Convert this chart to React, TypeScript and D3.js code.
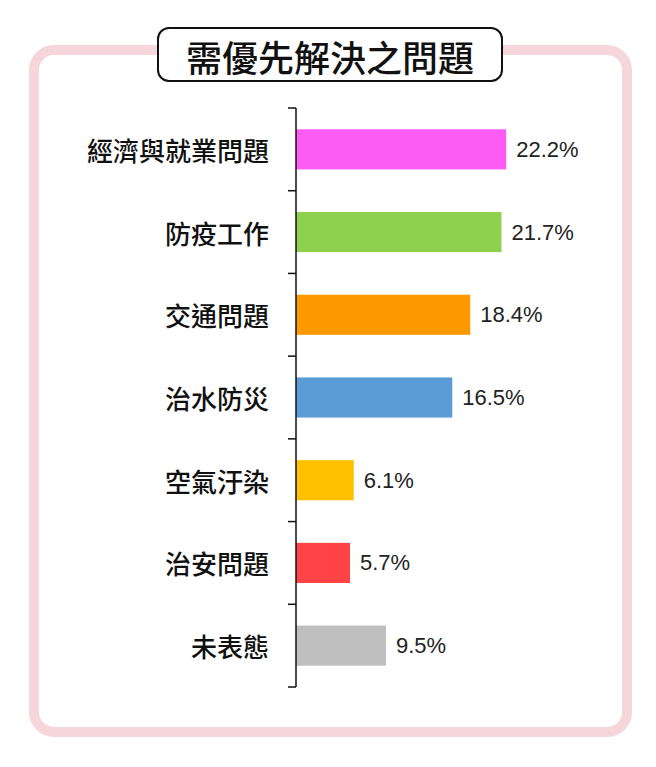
import * as d3 from "d3";

const categories = ["經濟與就業問題", "防疫工作", "交通問題", "治水防災", "空氣汙染", "治安問題", "未表態"];
const values = [22.2, 21.7, 18.4, 16.5, 6.1, 5.7, 9.5];
const colors = ["#ff5cf6", "#8fd14f", "#ff9900", "#5b9bd5", "#ffc000", "#ff4347", "#bfbfbf"];
const title = "需優先解決之問題";

const W = 656;
const H = 767;
const cjk = "'Noto Sans CJK TC', 'Noto Sans CJK SC', sans-serif";
const latin = "'Liberation Sans', Arial, sans-serif";

export default function App() {
  const axisX = 296;
  const top = 108;
  const bottom = 687;

  const x = d3.scaleLinear().domain([0, 25]).range([axisX, axisX + 25 * 9.47]);
  const slots = d3.scaleBand<string>().domain(categories).range([top, bottom]).padding(0);
  const y = d3
    .scaleBand<string>()
    .domain(categories)
    .range([top, bottom])
    .paddingInner(0.515)
    .paddingOuter(0.2575);

  const tickYs = [...categories.map((c) => slots(c) ?? 0), bottom];

  return (
    <div style={{ position: "absolute", left: 0, top: 0 }}>
      <svg width={W} height={H} style={{ display: "block", background: "#fff" }}>
        {/* pink frame */}
        <rect x={34} y={50} width={593} height={682} rx={20} fill="none" stroke="#f6d6da" strokeWidth={10} />

        {/* title box */}
        <rect x={158} y={28} width={344} height={53} rx={11} fill="#fff" stroke="#111" strokeWidth={2} />
        <text
          x={330}
          y={56}
          textAnchor="middle"
          dominantBaseline="central"
          fontFamily={cjk}
          fontSize={36}
          fontWeight={500}
          fill="#111"
        >
          {title}
        </text>

        {/* bars */}
        {categories.map((c, i) => (
          <rect
            key={c}
            x={x(0)}
            y={y(c)}
            width={x(values[i]) - x(0)}
            height={y.bandwidth()}
            fill={colors[i]}
          />
        ))}

        {/* value labels */}
        {categories.map((c, i) => (
          <text
            key={c + "-v"}
            x={x(values[i]) + 10}
            y={(y(c) ?? 0) + y.bandwidth() / 2}
            dominantBaseline="central"
            fontFamily={latin}
            fontSize={22}
            fill="#222"
          >
            {values[i].toFixed(1)}%
          </text>
        ))}

        {/* axis */}
        <line x1={axisX} x2={axisX} y1={top} y2={bottom} stroke="#111" strokeWidth={1.5} />
        {tickYs.map((t, i) => (
          <line key={i} x1={axisX - 8} x2={axisX} y1={t} y2={t} stroke="#111" strokeWidth={1.5} />
        ))}

        {/* category labels */}
        {categories.map((c) => (
          <text
            key={c + "-l"}
            x={269}
            y={(y(c) ?? 0) + y.bandwidth() / 2}
            textAnchor="end"
            dominantBaseline="central"
            fontFamily={cjk}
            fontSize={26}
            fontWeight={500}
            fill="#111"
          >
            {c}
          </text>
        ))}
      </svg>
    </div>
  );
}
